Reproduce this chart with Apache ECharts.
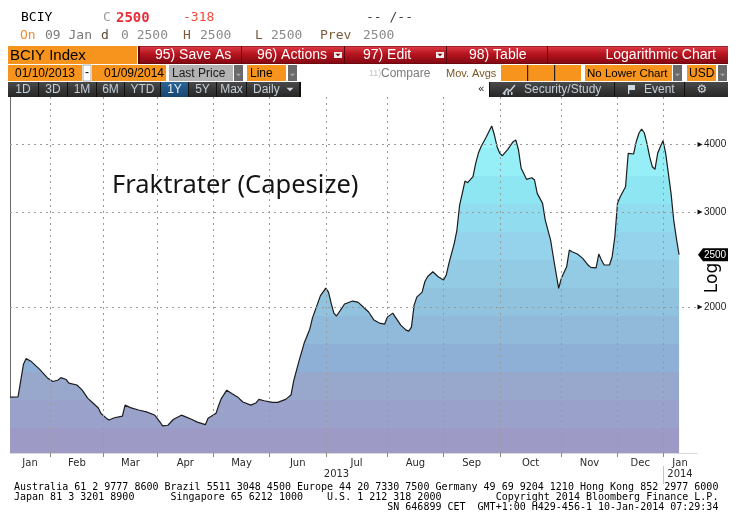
<!DOCTYPE html>
<html><head><meta charset="utf-8">
<script src="https://cdn.jsdelivr.net/npm/echarts@6/dist/echarts.min.js"></script>
<style>html,body{margin:0;padding:0;background:#fff}#c{width:736px;height:527px}</style>
</head><body><div id="c"></div><script>
// ---- data (trading-day index from 10 Jan 2013, BCIY close) ----
const days = [0,3,5,6,8,11,14,16,18,19,21,22,25,27,29,31,33,34,36,37,39,42,43,45,48,51,54,56,57,59,61,64,65,68,70,73,74,77,78,79,81,83,85,87,90,92,93,95,98,100,103,105,106,108,110,112,113,115,116,118,119,120,121,122,124,125,128,130,132,134,136,138,140,141,143,144,146,148,149,150,151,152,154,155,156,158,160,162,163,164,166,167,168,169,170,171,173,174,175,176,178,180,181,182,183,184,186,188,189,190,191,193,195,196,197,199,200,202,203,205,206,208,209,210,212,214,216,217,219,220,221,222,224,225,226,227,228,230,231,233,234,235,236,237,238,239,240,241,242,243,244,245,246,247,248,249,250];
const values = [1362,1363,1565,1605,1585,1535,1478,1456,1465,1480,1468,1446,1434,1403,1356,1328,1300,1270,1245,1235,1247,1256,1316,1302,1289,1279,1262,1226,1205,1208,1238,1261,1256,1238,1224,1211,1244,1271,1316,1355,1403,1382,1363,1334,1316,1330,1349,1341,1332,1332,1349,1374,1460,1590,1720,1820,1908,2034,2100,2169,2132,2034,1949,1925,1991,2026,2052,2043,2000,1958,1892,1868,1860,1916,1949,1916,1852,1813,1805,1836,2017,2087,2132,2228,2276,2325,2276,2244,2293,2410,2625,2778,3091,3249,3424,3400,3488,3693,3854,3964,4137,4330,4167,3964,3854,3815,3920,4050,4079,3909,3615,3449,3473,3439,3249,3113,2899,2662,2479,2166,2261,2375,2551,2532,2508,2462,2393,2369,2364,2508,2444,2393,2393,2479,2700,3113,3202,3342,3854,3843,4050,4198,4275,4208,4022,3799,3640,3600,3854,3964,4067,3854,3539,3249,2899,2681,2500];
const monthTicks = [15,35,55,76,97,118,141,162,183,206,227,244];
const monthNames = ['Jan','Feb','Mar','Apr','May','Jun','Jul','Aug','Sep','Oct','Nov','Dec','Jan'];
const yearNames = ['2013','2014'];
const yTicks = [2000,3000,4000];
const lastValue = 2500;
const xMax = 256.7, yMin = 1073, yMax = 4901;

const bounds = [0].concat(monthTicks, [xMax]);
const monthMids = monthNames.map((n,i)=> (bounds[i]+bounds[i+1])/2);
const yearMids = [monthTicks[11]/2, (monthTicks[11]+xMax)/2];
function pick(mids, names, v){ let b=0; mids.forEach((m,i)=>{ if(Math.abs(m-v)<Math.abs(mids[b]-v)) b=i; }); return names[b]; }

// ---- header graphics ----
const G = [];
const ORANGE = '#f7941d';
function box(x,y,w,h,fill,stroke){ G.push({type:'rect', silent:true, z:10, shape:{x:x,y:y,width:w,height:h}, style:{fill:fill, stroke:stroke||null, lineWidth:stroke?1:0}}); }
function txt(x,y,text,color,font,align){ G.push({type:'text', silent:true, z:11, x:x, y:y, style:{text:text, fill:color, font:font, align:align||'left', verticalAlign:'middle'}}); }
function tri(cx,cy,s,color){ G.push({type:'polygon', silent:true, z:11, shape:{points:[[cx-s,cy-s/2],[cx+s,cy-s/2],[cx,cy+s/2]]}, style:{fill:color}}); }
const redGrad = () => new echarts.graphic.LinearGradient(0,0,0,1,[{offset:0,color:'#dc3a44'},{offset:0.45,color:'#b5141f'},{offset:1,color:'#820812'}]);
const darkGrad = () => new echarts.graphic.LinearGradient(0,0,0,1,[{offset:0,color:'#4a4a4a'},{offset:1,color:'#262626'}]);
const blueGrad = () => new echarts.graphic.LinearGradient(0,0,0,1,[{offset:0,color:'#2a6597'},{offset:1,color:'#174570'}]);

const MONO = '13px "DejaVu Sans Mono"';
// line 1
txt(21,18,'BCIY','#000',MONO);
txt(103,18,'C','#9a9a9a',MONO);
txt(116,18,'2500','#e8303a','bold 14px "DejaVu Sans Mono"');
txt(183,18,'-318','#ef4a3c',MONO);
txt(366,18,'-- /--','#444',MONO);
// line 2
txt(20,36,'On','#f28a2e',MONO);
txt(45,36,'09 Jan','#7a7a7a',MONO);
txt(101,36,'d','#5e4a36',MONO);
txt(121,36,'0 2500','#8a8a8a',MONO);
txt(183,36,'H','#7b5b3b',MONO); txt(200,36,'2500','#8a8a8a',MONO);
txt(255,36,'L','#7b5b3b',MONO); txt(271,36,'2500','#8a8a8a',MONO);
txt(320,36,'Prev','#7b5b3b',MONO); txt(363,36,'2500','#8a8a8a',MONO);

// row 1
box(8,46,129,18,ORANGE);
txt(10,55.5,'BCIY Index','#000','15px "Liberation Sans"');
box(138,46,590,18,'#5a0810');
[[140,101,155,'95) Save As'],[242,102,257,'96) Actions'],[345,101,363,'97) Edit'],[447,100,469,'98) Table']].forEach(b=>{
  G.push({type:'rect', silent:true, z:10, shape:{x:b[0],y:46.5,width:b[1],height:17}, style:{fill:redGrad()}});
  txt(b[2],55.5,b[3],'#fff','14px "Liberation Sans"');
});
G.push({type:'rect', silent:true, z:10, shape:{x:548,y:46.5,width:180,height:17}, style:{fill:redGrad()}});
txt(716,55.5,'Logarithmic Chart','#fff','14px "Liberation Sans"','right');
box(334,52,8,6,'#eee'); tri(338,55,2.5,'#700');
box(436,52,8,6,'#eee'); tri(440,55,2.5,'#700');

// row 2
box(8,65,74,16,ORANGE); txt(45,73.5,'01/10/2013','#000','12px "Liberation Sans"','center');
box(83,65,8,16,'#fff','#aaa'); txt(87,73,'-','#000','12px "Liberation Sans"','center');
box(92,65,74,16,ORANGE); txt(134,73.5,'01/09/2014','#000','12px "Liberation Sans"','center');
box(169,65,64,16,'#b3b3b3'); txt(172,73.5,'Last Price','#1a1a1a','12px "Liberation Sans"');
box(234,65,9,16,'#6a6a6a'); tri(238.5,75,2.5,'#a8a8a8');
box(247,65,39,16,ORANGE); txt(250,73.5,'Line','#000','12px "Liberation Sans"');
box(288,65,9,16,'#6a6a6a'); tri(292.5,75,2.5,'#a8a8a8');
txt(369,73.5,'11)','#c4c4c4','9px "Liberation Sans"');
txt(381,73.5,'Compare','#7a7a7a','12px "Liberation Sans"');
txt(446,73.5,'Mov. Avgs','#7a5522','11px "Liberation Sans"');
box(501,65,80,16,ORANGE); box(527,65,1.2,16,'#222'); box(554,65,1.2,16,'#222');
box(585,65,87,16,ORANGE); txt(587,73.5,'No Lower Chart','#000','11.5px "Liberation Sans"');
box(673,65,9,16,'#6a6a6a'); tri(677.5,75,2.5,'#a8a8a8');
box(687,65,29,16,ORANGE); txt(689,73.5,'USD','#000','12px "Liberation Sans"');
box(718,65,9,16,'#6a6a6a'); tri(722.5,75,2.5,'#a8a8a8');

// row 3
box(8,82,720,15,'#111');
[[8,30,'1D'],[39,28,'3D'],[68,28,'1M'],[97,27,'6M'],[125,35,'YTD'],[161,27,'1Y'],[189,27,'5Y'],[217,29,'Max']].forEach(b=>{
  const act = b[2]==='1Y';
  G.push({type:'rect', silent:true, z:10, shape:{x:b[0],y:82,width:b[1],height:15}, style:{fill: act?blueGrad():darkGrad()}});
  txt(b[0]+b[1]/2,89.5,b[2], act?'#e6eef6':'#c3ced8','12px "Liberation Sans"','center');
});
G.push({type:'rect', silent:true, z:10, shape:{x:247,y:82,width:52,height:15}, style:{fill:darkGrad()}});
txt(253,89.5,'Daily','#c3ced8','12px "Liberation Sans"'); tri(290,89.5,3.5,'#d0d8e0');
box(301,82,188,15,'#fff');
txt(481,89,'«','#222','11px "DejaVu Sans"','center');
G.push({type:'rect', silent:true, z:10, shape:{x:490,y:82,width:124,height:15}, style:{fill:darkGrad()}});
G.push({type:'polyline', silent:true, z:11, shape:{points:[[503,94],[507,89],[510,91],[515,85]]}, style:{stroke:'#c3ced8', lineWidth:1.5, fill:null}});
box(504,92,1.5,3,'#c3ced8'); box(507.5,91,1.5,4,'#c3ced8'); box(511,92,1.5,3,'#c3ced8');
txt(524,89.5,'Security/Study','#c3ced8','12px "Liberation Sans"');
G.push({type:'rect', silent:true, z:10, shape:{x:615,y:82,width:69,height:15}, style:{fill:darkGrad()}});
box(628,85,1.3,9,'#d0d8e0'); box(629,85,6,5,'#d0d8e0');
txt(644,89.5,'Event','#c3ced8','12px "Liberation Sans"');
G.push({type:'rect', silent:true, z:10, shape:{x:685,y:82,width:43,height:15}, style:{fill:darkGrad()}});
txt(702,89.5,'\u2699','#d0d8e0','12px "DejaVu Sans"','center');

// axis side text
G.push({type:'text', silent:true, z:11, x:713, y:278, rotation:Math.PI/2, style:{text:'Log', fill:'#000', font:'17px "DejaVu Sans"', align:'center', verticalAlign:'middle'}});

// footer
const FOOT = '10px "DejaVu Sans Mono"';
const f1 = 'Australia 61 2 9777 8600 Brazil 5511 3048 4500 Europe 44 20 7330 7500 Germany 49 69 9204 1210 Hong Kong 852 2977 6000';
const f2 = 'Japan 81 3 3201 8900' + ' '.repeat(6) + 'Singapore 65 6212 1000' + ' '.repeat(4) + 'U.S. 1 212 318 2000' + ' '.repeat(9) + 'Copyright 2014 Bloomberg Finance L.P.';
const f3 = ' '.repeat(62) + 'SN 646899 CET  GMT+1:00 H429-456-1 10-Jan-2014 07:29:34';
txt(14,487,f1,'#000',FOOT); txt(14,497,f2,'#000',FOOT); txt(14,507.5,f3,'#000',FOOT);

// ---- area gradient (banded) ----
const bandEdges = [97,120,148,176,204,232,260,288,316,344,372,400,428,453];
const bandColors = ['#a6f8fa','#9ef4f8','#96eef6','#8fe6f3','#92dcf0','#95d3ec','#93cbe4','#91c3de','#90b9da','#8fb0d6','#97a8cc','#9aa2cc','#9d9ac5'];
const stops = [];
bandColors.forEach((c,i)=>{
  const a=(bandEdges[i]-97)/356, b=(bandEdges[i+1]-97)/356;
  stops.push({offset:a,color:c}); stops.push({offset:b,color:c});
});

const gridStyle = {color:'#9a9a9a', type:[2,4], width:1};
const mlData = monthTicks.map(t=>({xAxis:t, lineStyle:gridStyle}));
yTicks.forEach(v=>{
  mlData.push({yAxis:v, lineStyle:gridStyle,
     label:{show:true, position:'end', distance:7, formatter:String(v), color:'#1a1a1a', fontSize:10, fontFamily:'Liberation Sans'}});
});
const mpData = [{coord:[xMax,lastValue], value:lastValue}];
yTicks.forEach(v=>{
  mpData.push({coord:[xMax,v], value:v, symbol:'triangle', symbolSize:[5,5], symbolRotate:-90, symbolOffset:[3,0],
    itemStyle:{color:'#111'}, label:{show:false}});
});

const chart = echarts.init(document.getElementById('c'));
chart.setOption({
  animation:false,
  backgroundColor:'#fff',
  title:{text:'Fraktrater (Capesize)', left:112, top:173, padding:0,
    textStyle:{fontFamily:'Noto Sans', fontSize:25.5, fontWeight:'normal', color:'#151515'}},
  grid:{left:10, right:39, top:97, bottom:74, containLabel:false},
  graphic:{elements:G},
  xAxis:[{
    type:'value', min:0, max:xMax, position:'bottom',
    axisLine:{show:true, lineStyle:{color:'#d8d8d8'}},
    axisTick:{show:true, customValues:monthTicks, length:4, lineStyle:{color:'#8a8a8a'}},
    axisLabel:{show:true, customValues:monthMids, formatter:v=>pick(monthMids,monthNames,v), margin:5, fontSize:10, fontFamily:'DejaVu Sans', color:'#2a2a2a'},
    splitLine:{show:false}
  },{
    type:'value', min:0, max:xMax, position:'bottom', offset:13,
    axisLine:{show:false},
    axisTick:{show:true, customValues:[monthTicks[11]], length:18, lineStyle:{color:'#c4c4c4'}},
    axisLabel:{show:true, customValues:yearMids, formatter:v=>pick(yearMids,yearNames,v), margin:3, fontSize:10, fontFamily:'DejaVu Sans', color:'#2a2a2a'},
    splitLine:{show:false}
  }],
  yAxis:{
    type:'log', min:yMin, max:yMax, position:'right',
    axisLine:{show:true, lineStyle:{color:'#6a6a6a'}},
    axisTick:{show:false}, axisLabel:{show:false}, splitLine:{show:false}, minorTick:{show:false}, minorSplitLine:{show:false}
  },
  series:[{
    type:'line', xAxisIndex:0, data: days.map((d,i)=>[d, values[i]]),
    symbol:'none', smooth:false,
    lineStyle:{color:'#1c1c1c', width:1.2},
    areaStyle:{origin:'start', opacity:1, color:new echarts.graphic.LinearGradient(0,97,0,453,stops,true)},
    markLine:{silent:true, animation:false, symbol:['none','none'], label:{show:false}, data:mlData},
    markPoint:{silent:true, animation:false,
      data:mpData,
      symbol:'path://M0,6.5L5,0L30,0L30,13L5,13Z', symbolSize:[30,13], symbolKeepAspect:false, symbolOffset:[16,0],
      itemStyle:{color:'#000'},
      label:{show:true, position:'inside', offset:[2,0], formatter:'{c}', color:'#fff', fontSize:10, fontFamily:'Liberation Sans'}}
  }]
});
</script></body></html>
